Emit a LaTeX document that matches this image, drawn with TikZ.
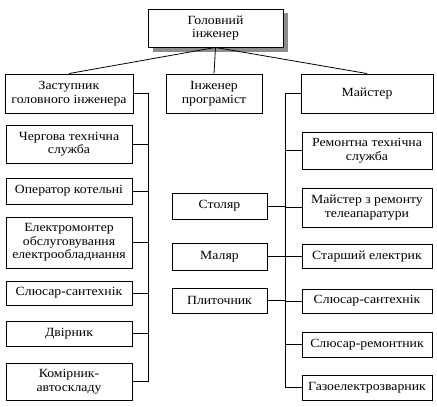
\documentclass[tikz,border=0pt]{standalone}
\usepackage{fontspec}
\setmainfont{Liberation Serif}[FakeStretch=1.1]
\begin{document}
\begin{tikzpicture}[x=1pt, y=-1pt,
    box/.style={draw, line width=0.9pt, align=center, inner sep=1pt,
      font=\fontsize{12.5}{13.5}\selectfont},
    wire/.style={line width=0.8pt}]
      \useasboundingbox (0,0) rectangle (437,407);
      % TOP
      \fill[black!45] (152.5,13) rectangle (287.5,52);
      \node[box, fill=white, minimum width=135pt, minimum height=38pt] (chief) at (215.5,28) {Головний\\інженер};
      % SECOND ROW
      \node[box, minimum width=128pt, minimum height=39pt] (deputy) at (69,93.5) {Заступник\\головного інженера};
      \node[box, minimum width=96pt, minimum height=39pt] (progr) at (214,93.5) {Інженер\\програміст};
      \node[box, minimum width=132pt, minimum height=39pt] (master) at (367,93.5) {Майстер};
      \draw[wire] (chief.south) -- (deputy.north);
      \draw[wire] (chief.south) -- (progr.north);
      \draw[wire] (chief.south) -- (master.north);
      % LEFT COLUMN
      \node[box, minimum width=126pt, minimum height=38pt] (duty) at (69,144) {Чергова технічна\\служба};
      \node[box, minimum width=126pt, minimum height=26pt] (boiler) at (69,191) {Оператор котельні};
      \node[box, minimum width=126pt, minimum height=51pt] (electr) at (69,242.5) {Електромонтер\\обслуговування\\електрообладнання};
      \node[box, minimum width=126pt, minimum height=24pt] (plumbL) at (69,293) {Слюсар-сантехнік};
      \node[box, minimum width=126pt, minimum height=25pt] (janitor) at (69,333.5) {Двірник};
      \node[box, minimum width=126pt, minimum height=37pt] (store) at (69,381.5) {Комірник-\\автоскладу};
      \coordinate (lbus) at (148,0);
      \draw[wire] (deputy.east) -| (lbus |- store.east) -- (store.east);
      \foreach \n in {duty, boiler, electr, plumbL, janitor}
        \draw[wire] (\n.east) -- (\n.east -| lbus);
      % RIGHT COLUMN
      \node[box, minimum width=130pt, minimum height=37pt] (repair) at (367,150.5) {Ремонтна технічна\\служба};
      \node[box, minimum width=130pt, minimum height=39pt] (telerep) at (367,207.5) {Майстер з ремонту\\телеапаратури};
      \node[box, minimum width=130pt, minimum height=24pt] (senior) at (367,256.5) {Старший електрик};
      \node[box, minimum width=130pt, minimum height=24pt] (plumbR) at (367,301) {Слюсар-сантехнік};
      \node[box, minimum width=130pt, minimum height=25pt] (fitter) at (367,344.5) {Слюсар-ремонтник};
      \node[box, minimum width=130pt, minimum height=25pt] (welder) at (367,387.5) {Газоелектрозварник};
      \coordinate (rbus) at (285,0);
      \draw[wire] (master.west) -| (rbus |- welder.west) -- (welder.west);
      \foreach \n in {repair, telerep, senior, plumbR, fitter}
        \draw[wire] (\n.west) -- (\n.west -| rbus);
      % MIDDLE COLUMN
      \node[box, minimum width=95pt, minimum height=26pt] (joiner) at (219.5,206) {Столяр};
      \node[box, minimum width=95pt, minimum height=27pt] (painter) at (219.5,256.5) {Маляр};
      \node[box, minimum width=95pt, minimum height=25pt] (tiler) at (219.5,300.5) {Плиточник};
      \foreach \n in {joiner, painter, tiler}
        \draw[wire] (\n.east) -- (\n.east -| rbus);
    \end{tikzpicture}
\end{document}
